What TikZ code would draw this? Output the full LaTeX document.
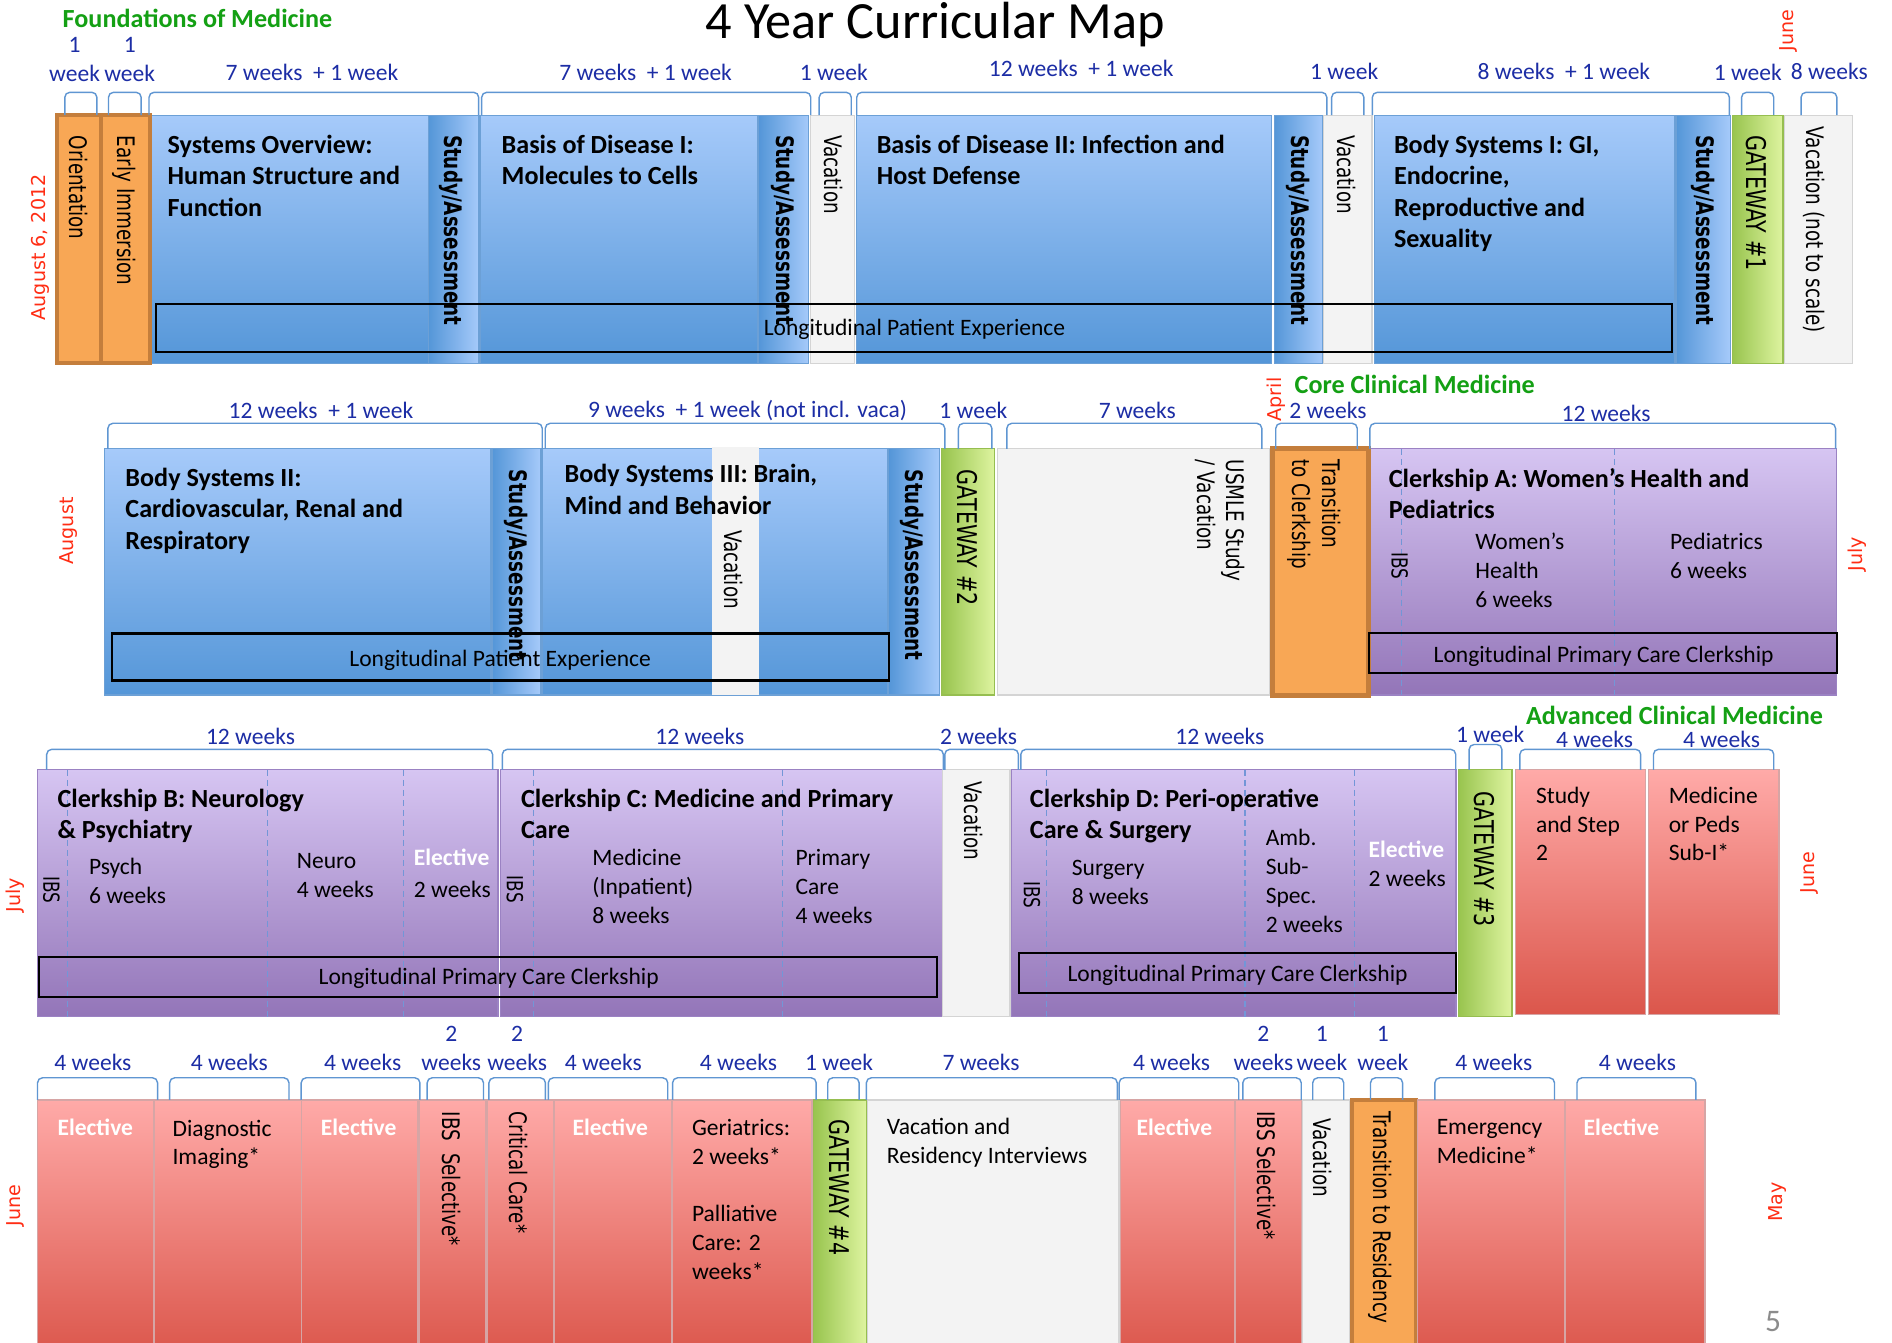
\documentclass[tikz,border=0pt]{standalone}
\usepackage{fontspec}
\setmainfont{Carlito}
\newfontfamily\VertFont[FakeStretch=0.76]{DejaVu Sans}
\newfontfamily\MonFont{DejaVu Sans}
\usetikzlibrary{fit}
\definecolor{bT}{RGB}{166,202,250}
\definecolor{bB}{RGB}{84,150,216}
\definecolor{bE}{RGB}{108,160,214}
\definecolor{orF}{RGB}{248,167,85}
\definecolor{orE}{RGB}{196,126,60}
\definecolor{vacF}{RGB}{243,243,243}
\definecolor{vacE}{RGB}{212,212,212}
\definecolor{gL}{RGB}{152,196,78}
\definecolor{gR}{RGB}{222,244,160}
\definecolor{gE}{RGB}{150,190,80}
\definecolor{pT}{RGB}{214,197,242}
\definecolor{pB}{RGB}{147,117,184}
\definecolor{pE}{RGB}{155,130,195}
\definecolor{rT}{RGB}{255,170,168}
\definecolor{rB}{RGB}{219,86,75}
\definecolor{rE}{RGB}{214,165,165}
\definecolor{wkC}{RGB}{28,45,165}
\definecolor{grnC}{RGB}{20,160,20}
\definecolor{moC}{RGB}{255,45,20}
\definecolor{brkC}{RGB}{95,150,210}
\definecolor{dshC}{RGB}{115,150,215}
\definecolor{pgC}{RGB}{140,140,140}
\newcommand\HdF{\fontsize{13}{15.6}\selectfont\bfseries}
\newcommand\TxF{\fontsize{11.7}{14.4}\selectfont}
\newcommand\VtF{\VertFont\fontsize{12}{14.6}\selectfont}
\newcommand\GwF{\VertFont\fontsize{13.5}{16}\selectfont}
\newcommand\IbF{\VertFont\fontsize{11}{13}\selectfont}
\newcommand\MoF{\MonFont\fontsize{9.5}{11}\selectfont}
\newcommand\TiF{\fontsize{26}{30}\selectfont}
\newcommand\Bx[6]{\node[#1, fit={(#3,#4) (#5,#6)}] (#2) {};}
\newcommand\Br[4]{\draw[brk] (#1,#4) -- (#1,#3) -- (#2,#3) -- (#2,#4);}
\tikzset{
 nb/.style={inner sep=0pt, outer sep=0pt},
 bluebox/.style={nb, top color=bT, bottom color=bB, draw=bE, line width=0.6pt},
 sabox/.style={nb, left color=bB, right color=bT, draw=bE, line width=0.6pt},
 orbox/.style={nb, fill=orF, draw=orE, line width=2pt},
 vacbox/.style={nb, fill=vacF, draw=vacE, line width=0.6pt},
 gwbox/.style={nb, left color=gL, right color=gR, draw=gE, line width=0.6pt},
 purbox/.style={nb, top color=pT, bottom color=pB, draw=pE, line width=0.6pt},
 redbox/.style={nb, top color=rT, bottom color=rB, draw=rE, line width=0.6pt},
 lbox/.style={nb, draw=black, line width=1.1pt},
 brk/.style={draw=brkC, line width=0.7pt, rounded corners=2.5pt},
 dsh/.style={draw=dshC, line width=0.6pt, dash pattern=on 3pt off 2pt},
 hd/.style={nb, anchor=north west, align=left, font=\HdF},
 tx/.style={nb, anchor=north west, align=left, font=\TxF},
 el/.style={nb, anchor=north west, font=\TxF\bfseries, text=white},
 wk/.style={nb, align=center, font=\TxF, text=wkC},
 vt/.style={nb, rotate=-90, font=\VtF},
 vtb/.style={nb, rotate=-90, font=\VtF\bfseries},
 mo/.style={nb, rotate=90, font=\MoF, text=moC},
 sec/.style={nb, anchor=west, font=\HdF, text=grnC},
}
\begin{document}
\begin{tikzpicture}[x=0.6pt,y=-0.6pt]
\path[use as bounding box] (0,0) rectangle (1568,1113);
\clip (0,0) rectangle (1568,1113);
\fill[white] (0,0) rectangle (1568,1113);

% ---------- Row 1 ----------
\Bx{bluebox}{so}{124}{95.5}{355}{301}
\Bx{sabox}{sa1}{355}{95.5}{397}{301}
\Bx{bluebox}{bd1}{398}{95.5}{628}{301}
\Bx{sabox}{sa2}{628.7}{95.5}{670.3}{301}
\Bx{vacbox}{va1}{672}{95.5}{708}{301}
\Bx{bluebox}{bd2}{709.5}{95.5}{1054}{301}
\Bx{sabox}{sa3}{1056}{95.5}{1096}{301}
\Bx{vacbox}{va2}{1097}{95.5}{1137}{301}
\Bx{bluebox}{bs1}{1139}{95.5}{1388}{301}
\Bx{sabox}{sa4}{1389}{95.5}{1434}{301}
\Bx{gwbox}{gw1}{1435.5}{95.5}{1477.7}{301}
\Bx{vacbox}{va3}{1479}{95.5}{1535.4}{301}
\Bx{orbox}{orient}{47}{95.5}{84}{301}
\Bx{orbox}{early}{84}{95.5}{124}{301}
\Bx{lbox}{lpe1}{129.5}{252}{1385.4}{291.7}

% ---------- Row 2 ----------
\Bx{bluebox}{bs2}{86.9}{372}{406.7}{576}
\Bx{sabox}{sa5}{407.7}{372}{448.4}{576}
\Bx{bluebox}{bs3}{449.5}{372}{735.6}{576}
\Bx{vacbox, draw=none}{vs}{590}{370.5}{629}{576}
\Bx{sabox}{sa6}{736.6}{372}{778.3}{576}
\Bx{gwbox}{gw2}{780.5}{372}{824.3}{576}
\Bx{vacbox}{us}{826.9}{372}{1052.3}{576}
\Bx{purbox}{cka}{1134.6}{372}{1522.3}{576}
\Bx{orbox, line width=2.5pt}{trc}{1054.5}{372}{1134}{576}
\draw[dsh] (1161.5,372) -- (1161.5,576);
\draw[dsh] (1337.7,372) -- (1337.7,576);
\Bx{lbox}{lpe2}{92.9}{525}{736.6}{564}
\Bx{lbox}{lpa}{1134.6}{524.3}{1522.3}{557.5}

% ---------- Row 3 ----------
\Bx{purbox}{ckb}{31.1}{638}{412.7}{842.6}
\Bx{purbox}{ckc}{414.7}{638}{781.3}{842.6}
\Bx{vacbox}{va4}{781.3}{638}{837}{842.6}
\Bx{purbox}{ckd}{838}{638}{1206.7}{842.6}
\Bx{gwbox}{gw3}{1208.4}{638}{1253}{842.6}
\Bx{redbox}{ss}{1256}{638}{1363.7}{841}
\Bx{redbox}{mp}{1366.3}{638}{1474.4}{841}
\foreach \xx in {56.2,221.5,334.4,441.9,648.8,867,1031.7,1122.7}
  \draw[dsh] (\xx,638) -- (\xx,842.6);
\Bx{lbox}{lpb}{32.6}{793}{776.8}{826}
\Bx{lbox}{lpd}{844.5}{790}{1206.7}{823}

% ---------- Row 4 ----------
\Bx{redbox}{e1}{31.1}{911.6}{127}{1125}
\Bx{redbox}{di}{128}{911.6}{249.6}{1125}
\Bx{redbox}{e2}{249.6}{911.6}{346.4}{1125}
\Bx{redbox}{is1}{347.4}{911.6}{402.8}{1125}
\Bx{redbox}{cc}{403.7}{911.6}{458.5}{1125}
\Bx{redbox}{e3}{459.4}{911.6}{556.4}{1125}
\Bx{redbox}{ger}{557.4}{911.6}{672.9}{1125}
\Bx{gwbox}{gw4}{674}{911.6}{718}{1125}
\Bx{vacbox}{vr}{719}{911.6}{927.4}{1125}
\Bx{redbox}{e4}{928.5}{911.6}{1023}{1125}
\Bx{redbox}{is2}{1024}{911.6}{1078.4}{1125}
\Bx{vacbox}{va5}{1079.5}{911.6}{1118.8}{1125}
\Bx{orbox}{trr}{1120.5}{911.6}{1173.5}{1125}
\Bx{redbox}{em}{1175}{911.6}{1296.3}{1125}
\Bx{redbox}{e5}{1297.4}{911.6}{1413}{1125}

% ---------- Brackets ----------
\Br{53.7}{80.3}{76.5}{95.5}
\Br{89.9}{117}{76.5}{95.5}
\Br{123.5}{396.7}{76.5}{95.5}
\Br{399.2}{671.9}{76.5}{95.5}
\Br{678.9}{705.5}{76.5}{95.5}
\Br{710}{1099.6}{76.5}{95.5}
\Br{1103.6}{1130.3}{76.5}{95.5}
\Br{1137.3}{1433.2}{76.5}{95.5}
\Br{1443.3}{1470}{76.5}{95.5}
\Br{1492.6}{1522.3}{76.5}{95.5}

\Br{89.4}{449.4}{350.8}{372}
\Br{451.9}{783}{350.8}{372}
\Br{794.2}{822}{350.8}{372}
\Br{834.4}{1045.7}{350.8}{372}
\Br{1057.3}{1124.8}{350.8}{372}
\Br{1135.3}{1521.2}{350.8}{372}

\Br{38.7}{408.2}{621}{638}
\Br{416.3}{781.8}{621}{638}
\Br{783}{844}{621}{638}
\Br{846}{1206.4}{621}{638}
\Br{1217.5}{1244.7}{617}{638}
\Br{1259.6}{1359.7}{621}{638}
\Br{1370.3}{1470}{621}{638}

\Br{31.1}{130.6}{893.2}{911.6}
\Br{140.6}{239.5}{893.2}{911.6}
\Br{249.6}{348}{893.2}{911.6}
\Br{354}{400.7}{893.2}{911.6}
\Br{405.2}{452}{893.2}{911.6}
\Br{454.4}{553.4}{893.2}{911.6}
\Br{557.4}{676.4}{893.2}{911.6}
\Br{686}{712}{893.2}{911.6}
\Br{718}{925.9}{893.2}{911.6}
\Br{927.5}{1026.6}{893.2}{911.6}
\Br{1030}{1078.4}{893.2}{911.6}
\Br{1087.9}{1113.6}{893.2}{911.6}
\Br{1135.8}{1162.4}{893.2}{911.6}
\Br{1189.1}{1288.3}{893.2}{911.6}
\Br{1306.9}{1405.5}{893.2}{911.6}

% ---------- Headings ----------
\node[sec] (tfom) at (52,15) {Foundations of Medicine};
\node[nb, font=\TiF] (ttitle) at (775,20) {4 Year Curricular Map};
\node[sec] (tccm) at (1073,319) {Core Clinical Medicine};
\node[sec] (tacm) at (1264.7,592.6) {Advanced Clinical Medicine};
\node[mo] (taug) at (33.6,205) {August 6, 2012};
\node[mo] (tjun1) at (1482,25.5) {June};
\node[mo] (tapr) at (1058,331) {April};
\node[mo] (taug2) at (56.7,440) {August};
\node[mo] (tjul1) at (1539,459.5) {July};
\node[mo] (tjul2) at (12.5,742) {July};
\node[mo] (tjun2) at (1499.6,723) {June};
\node[mo] (tjun3) at (12.5,999.3) {June};
\node[mo] (tmay) at (1473.5,996) {May};
\node[nb, font=\fontsize{15.6}{18}\selectfont, text=pgC] (tpg) at (1469.5,1095) {5};

% ---------- Week labels ----------
\node[wk] (w1a) at (61.8,49) {1\\week};
\node[wk] (w1b) at (107.5,49) {1\\week};
\node[wk] (w1c) at (258.5,60) {7 weeks \ + 1 week};
\node[wk] (w1d) at (535,60) {7 weeks \ + 1 week};
\node[wk] (w1e) at (691,60) {1 week};
\node[wk] (w1f) at (896,57) {12 weeks \ + 1 week};
\node[wk] (w1g) at (1114,59) {1 week};
\node[wk] (w1h) at (1296,59) {8 weeks \ + 1 week};
\node[wk] (w1i) at (1448.5,60) {1 week};
\node[wk] (w1j) at (1516,59) {8 weeks};

\node[wk] (w2a) at (266,340) {12 weeks \ + 1 week};
\node[wk] (w2b) at (619.5,340) {9 weeks \ + 1 week (not incl. vaca)};
\node[wk] (w2c) at (806.7,340) {1 week};
\node[wk] (w2d) at (942.5,340) {7 weeks};
\node[wk] (w2e) at (1100.5,340) {2 weeks};
\node[wk] (w2f) at (1331,343) {12 weeks};

\node[wk] (w3a) at (207.6,610) {12 weeks};
\node[wk] (w3b) at (580,610) {12 weeks};
\node[wk] (w3c) at (811,610) {2 weeks};
\node[wk] (w3d) at (1011,610) {12 weeks};
\node[wk] (w3e) at (1235,609) {1 week};
\node[wk] (w3f) at (1321.5,613) {4 weeks};
\node[wk] (w3g) at (1426.7,613) {4 weeks};

\node[wk] (w4a) at (77,880.5) {4 weeks};
\node[wk] (w4b) at (190,880.5) {4 weeks};
\node[wk] (w4c) at (300.6,880.5) {4 weeks};
\node[wk] (w4d) at (374,869) {2\\weeks};
\node[wk] (w4e) at (428.6,869) {2\\weeks};
\node[wk] (w4f) at (500,880.5) {4 weeks};
\node[wk] (w4g) at (612,880.5) {4 weeks};
\node[wk] (w4h) at (695.4,880.5) {1 week};
\node[wk] (w4i) at (813,880.5) {7 weeks};
\node[wk] (w4j) at (971,880.5) {4 weeks};
\node[wk] (w4k) at (1047,869) {2\\weeks};
\node[wk] (w4l) at (1095.5,869) {1\\week};
\node[wk] (w4m) at (1146,869) {1\\week};
\node[wk] (w4n) at (1238,880.5) {4 weeks};
\node[wk] (w4o) at (1357,880.5) {4 weeks};

% ---------- Row 1 texts ----------
\node[hd] (tso) at (139,112) {Systems Overview:\\Human Structure and\\Function};
\node[hd] (tbd1) at (415.8,112) {Basis of Disease I:\\Molecules to Cells};
\node[hd] (tbd2) at (726.6,112) {Basis of Disease II: Infection and\\Host Defense};
\node[hd] (tbs1) at (1155.3,112) {Body Systems I: GI,\\Endocrine,\\Reproductive and\\Sexuality};
\node[vt, anchor=west] (tor) at (65.3,112.7) {Orientation};
\node[vt, anchor=west] (tei) at (103,112.7) {Early Immersion};
\node[vtb, anchor=west] (tsa1) at (374,111.9) {Study/Assessment};
\node[vtb, anchor=west] (tsa2) at (648.8,111.9) {Study/Assessment};
\node[vt, anchor=west] (tva1) at (690.4,111.9) {Vacation};
\node[vtb, anchor=west] (tsa3) at (1076,111.9) {Study/Assessment};
\node[vt, anchor=west] (tva2) at (1116.2,111.9) {Vacation};
\node[vtb, anchor=west] (tsa4) at (1411.6,111.9) {Study/Assessment};
\node[vt, anchor=west, font=\GwF] (tgw1) at (1455.8,111.9) {GATEWAY \#1};
\node[vt, anchor=west] (tvns) at (1503.6,105) {Vacation (not to scale)};
\node[nb, font=\TxF] (tlpe1) at (757.9,273) {Longitudinal Patient Experience};

% ---------- Row 2 texts ----------
\node[hd] (tbs2) at (104,388) {Body Systems II:\\Cardiovascular, Renal and\\Respiratory};
\node[hd] (tbs3) at (468,385) {Body Systems III: Brain,\\Mind and Behavior};
\node[vtb, anchor=west] (tsa5) at (427.8,389.5) {Study/Assessment};
\node[vt, anchor=west] (tvs) at (607.6,439.3) {Vacation};
\node[vtb, anchor=west] (tsa6) at (755.7,389.5) {Study/Assessment};
\node[vt, anchor=west, font=\GwF] (tgw2) at (801.7,389.5) {GATEWAY \#2};
\node[vt, anchor=north west, align=left] (tus) at (1032,381) {USMLE Study\\/ Vacation};
\node[vt, anchor=north west, align=left] (ttc) at (1111,381) {Transition\\to Clerkship};
\node[hd] (tcka) at (1151,388) {Clerkship A: Women's Health and\\Pediatrics};
\node[vt, font=\IbF] (tib1) at (1160,469) {IBS};
\node[tx] (twh) at (1222.8,442) {Women's\\Health\\6 weeks};
\node[tx] (tped) at (1384,442) {Pediatrics\\6 weeks};
\node[nb, font=\TxF] (tlpe2) at (414.5,547) {Longitudinal Patient Experience};
\node[nb, font=\TxF] (tlpa) at (1329,543.7) {Longitudinal Primary Care Clerkship};

% ---------- Row 3 texts ----------
\node[hd] (tckb) at (47.7,654) {Clerkship B: Neurology\\\& Psychiatry};
\node[vt, font=\IbF] (tib2) at (42.7,737.6) {IBS};
\node[tx] (tpsy) at (73.8,711) {Psych\\6 weeks};
\node[tx] (tneu) at (246,707.5) {Neuro\\4 weeks};
\node[el] (tel1) at (343,703.5) {Elective};
\node[tx] (tel1w) at (343,730) {2 weeks};
\node[hd] (tckc) at (431.8,654) {Clerkship C: Medicine and Primary\\Care};
\node[vt, font=\IbF] (tib3) at (426.8,737) {IBS};
\node[tx] (tmed) at (491,704) {Medicine\\(Inpatient)\\8 weeks};
\node[tx] (tpc) at (659.3,704) {Primary\\Care\\4 weeks};
\node[vt, anchor=west] (tva4) at (806.7,647.8) {Vacation};
\node[hd] (tckd) at (853.6,654) {Clerkship D: Peri-operative\\Care \& Surgery};
\node[vt, font=\IbF] (tib4) at (855.3,741.7) {IBS};
\node[tx] (tsur) at (888.3,713) {Surgery\\8 weeks};
\node[tx] (tamb) at (1049,687) {Amb.\\Sub-\\Spec.\\2 weeks};
\node[el] (tel2) at (1134.3,697) {Elective};
\node[tx] (tel2w) at (1134.3,721.5) {2 weeks};
\node[vt, anchor=west, font=\GwF] (tgw3) at (1230.4,656) {GATEWAY \#3};
\node[tx] (tss) at (1273,652) {Study\\and Step\\2};
\node[tx] (tmp) at (1383,652) {Medicine\\or Peds\\Sub-I*};
\node[nb, font=\TxF] (tlpb) at (405,811) {Longitudinal Primary Care Clerkship};
\node[nb, font=\TxF] (tlpd) at (1025.6,808) {Longitudinal Primary Care Clerkship};

% ---------- Row 4 texts ----------
\node[el] (te1) at (47.7,927.5) {Elective};
\node[tx] (tdi) at (143,928) {Diagnostic\\Imaging*};
\node[el] (te2) at (266,927.5) {Elective};
\node[vt, anchor=west] (tis1) at (374,921.3) {IBS\enspace Selective*};
\node[vt, anchor=west] (tcc) at (429.3,921.3) {Critical Care*};
\node[el] (te3) at (474.5,927.5) {Elective};
\node[tx] (tger) at (573.5,928) {Geriatrics:\\2 weeks*};
\node[tx] (tpal) at (573.5,998.6) {Palliative\\Care: 2\\weeks*};
\node[vt, anchor=west, font=\GwF] (tgw4) at (695.5,928) {GATEWAY \#4};
\node[tx] (tvr) at (735,927) {Vacation and\\Residency Interviews};
\node[el] (te4) at (942,927.5) {Elective};
\node[vt, anchor=west] (tis2) at (1049.2,921) {IBS Selective*};
\node[vt, anchor=west] (tva5) at (1096,926.7) {Vacation};
\node[vt, anchor=west] (ttr) at (1143.9,921) {Transition to Residency};
\node[tx] (tem) at (1190.7,928) {Emergency\\Medicine*};
\node[el] (te5) at (1312.5,927.5) {Elective};
\end{tikzpicture}
\end{document}
